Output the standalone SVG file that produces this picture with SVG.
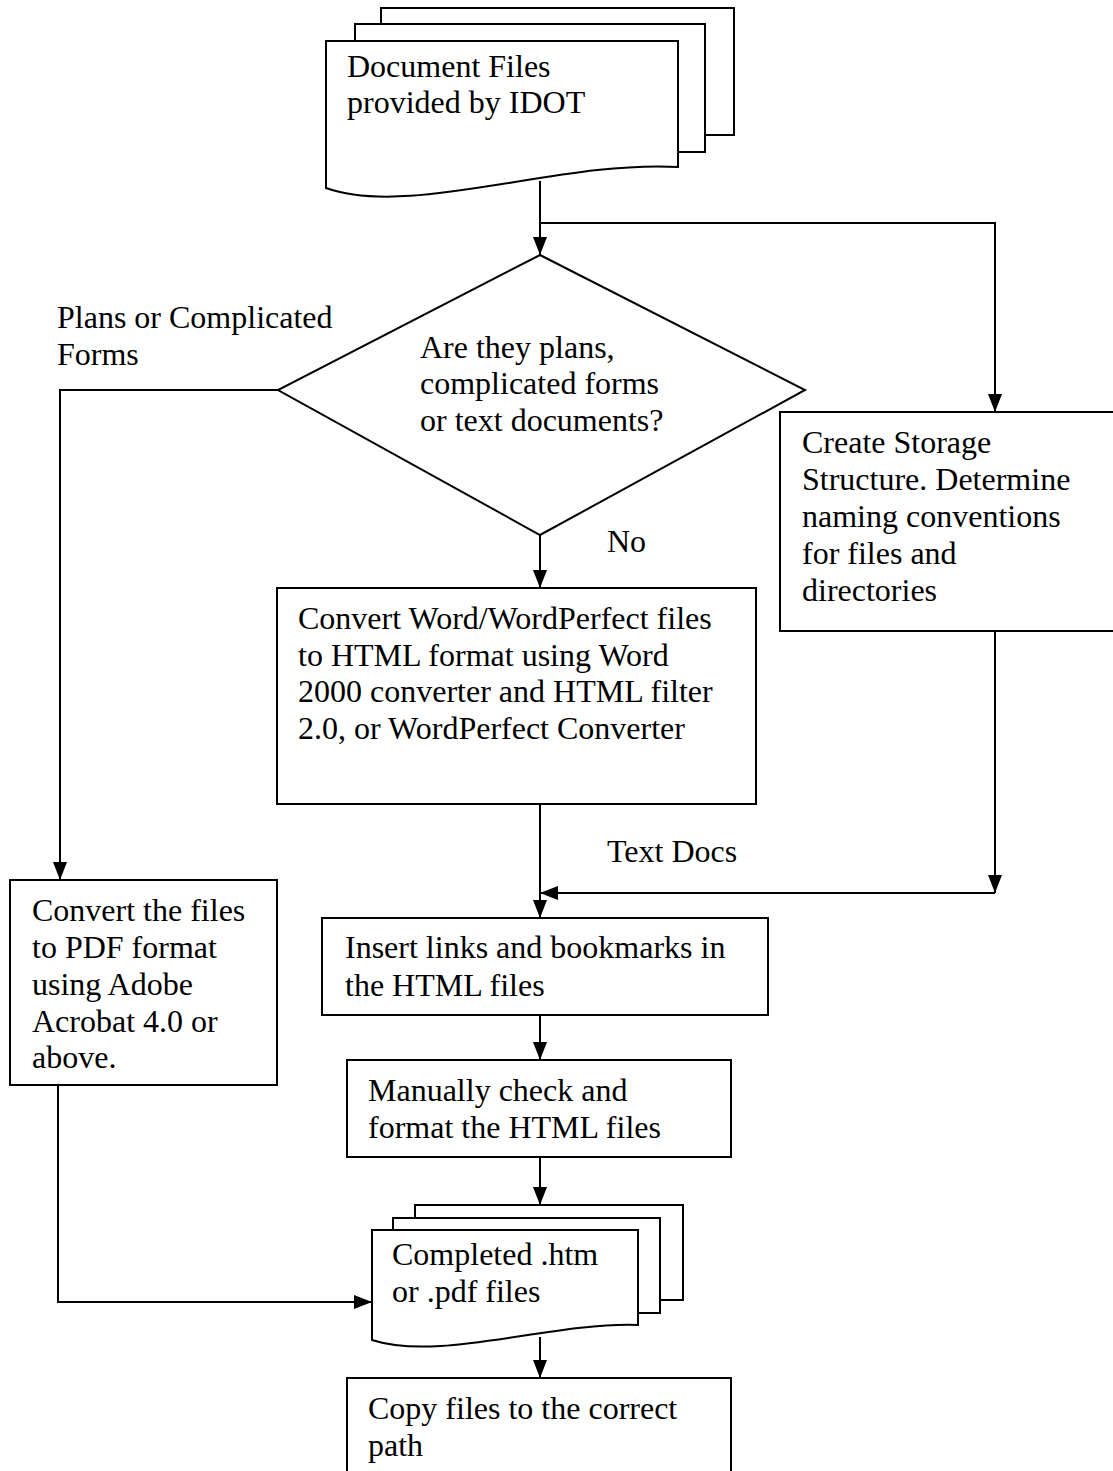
<svg xmlns="http://www.w3.org/2000/svg" width="1113" height="1471" viewBox="0 0 1113 1471">
<defs>
<style>
.s{fill:#fff;stroke:#000;stroke-width:2}
.l{fill:none;stroke:#000;stroke-width:2}
text{font-family:"Liberation Serif","Times New Roman",serif;font-size:32px;fill:#000}
</style>
<marker id="a" viewBox="0 0 18 14" refX="18" refY="7" markerWidth="18" markerHeight="14" markerUnits="userSpaceOnUse" orient="auto">
<path d="M0,0 L18,7 L0,14 Z" fill="#000"/>
</marker>
</defs>
<rect width="1113" height="1471" fill="#fff"/>
<g id="connectors">
<path class="l" d="M540,181 V255" marker-end="url(#a)"/>
<path class="l" d="M540,223 H995 V412" marker-end="url(#a)"/>
<path class="l" d="M278,390 H60 V880" marker-end="url(#a)"/>
<path class="l" d="M540,535 V588" marker-end="url(#a)"/>
<path class="l" d="M540,804 V918" marker-end="url(#a)"/>
<path class="l" d="M995,631 V893" marker-end="url(#a)"/>
<path class="l" d="M995,893 H540" marker-end="url(#a)"/>
<path class="l" d="M540,1015 V1060" marker-end="url(#a)"/>
<path class="l" d="M540,1157 V1205" marker-end="url(#a)"/>
<path class="l" d="M58,1085 V1302 H372" marker-end="url(#a)"/>
<path class="l" d="M540,1337 V1378" marker-end="url(#a)"/>
</g>
<g id="doc-files">
<rect class="s" x="381" y="8" width="353" height="127"/>
<rect class="s" x="355" y="24" width="350" height="128"/>
<path class="s" d="M326,41 H678 V167 C560,160 410,218 326,188 Z"/>
<text x="347" y="77">Document Files</text>
<text x="347" y="113">provided by IDOT</text>
</g>
<g id="decision">
<path class="s" d="M540,255 L805,390 L540,535 L278,390 Z"/>
<text x="420" y="358">Are they plans,</text>
<text x="420" y="394">complicated forms</text>
<text x="420" y="431">or text documents?</text>
</g>
<g id="label-plans">
<text x="57" y="328">Plans or Complicated</text>
<text x="57" y="365">Forms</text>
</g>
<g id="label-no"><text x="607" y="552">No</text></g>
<g id="label-text-docs"><text x="607" y="862">Text Docs</text></g>
<g id="convert-word">
<rect class="s" x="277" y="588" width="479" height="216"/>
<text x="298" y="629">Convert Word/WordPerfect files</text>
<text x="298" y="666">to HTML format using Word</text>
<text x="298" y="702">2000 converter and HTML filter</text>
<text x="298" y="739">2.0, or WordPerfect Converter</text>
</g>
<g id="storage">
<rect class="s" x="780" y="412" width="340" height="219"/>
<text x="802" y="453">Create Storage</text>
<text x="802" y="490">Structure. Determine</text>
<text x="802" y="527">naming conventions</text>
<text x="802" y="564">for files and</text>
<text x="802" y="601">directories</text>
</g>
<g id="convert-pdf">
<rect class="s" x="10" y="880" width="267" height="205"/>
<text x="32" y="921">Convert the files</text>
<text x="32" y="958">to PDF format</text>
<text x="32" y="995">using Adobe</text>
<text x="32" y="1032">Acrobat 4.0 or</text>
<text x="32" y="1068">above.</text>
</g>
<g id="insert-links">
<rect class="s" x="322" y="918" width="446" height="97"/>
<text x="345" y="958">Insert links and bookmarks in</text>
<text x="345" y="996">the HTML files</text>
</g>
<g id="manual-check">
<rect class="s" x="347" y="1060" width="384" height="97"/>
<text x="368" y="1101">Manually check and</text>
<text x="368" y="1138">format the HTML files</text>
</g>
<g id="completed">
<rect class="s" x="415" y="1205" width="268" height="95"/>
<rect class="s" x="393" y="1218" width="267" height="95"/>
<path class="s" d="M372,1230 H638 V1325 C550,1322 440,1362 372,1340 Z"/>
<text x="392" y="1265">Completed .htm</text>
<text x="392" y="1302">or .pdf files</text>
</g>
<g id="copy-files">
<rect class="s" x="347" y="1378" width="384" height="100"/>
<text x="368" y="1419">Copy files to the correct</text>
<text x="368" y="1456">path</text>
</g>
</svg>
